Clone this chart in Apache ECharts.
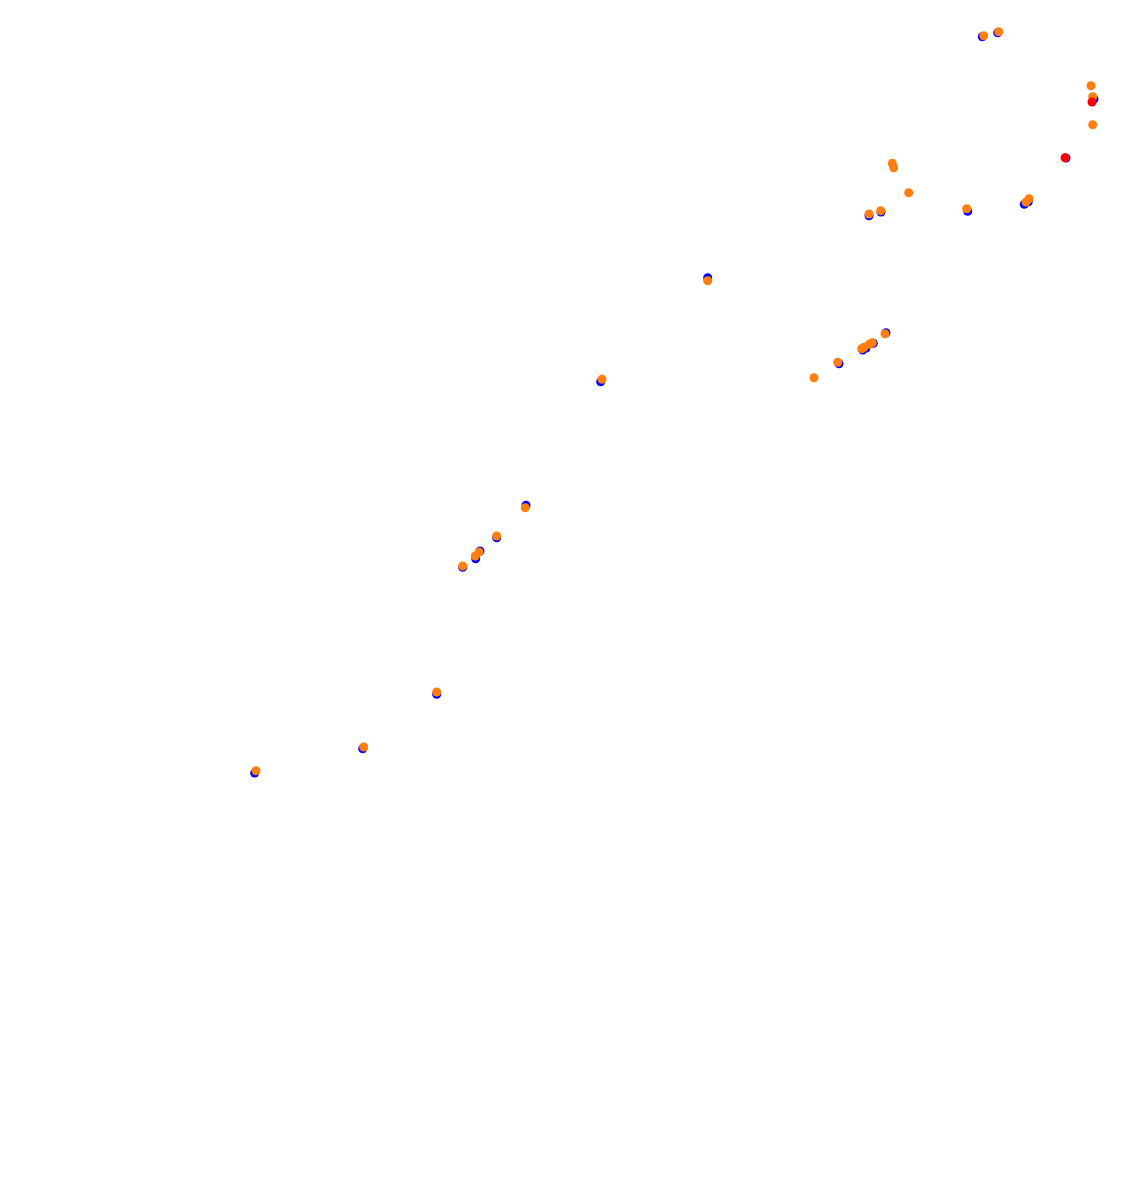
<!DOCTYPE html>
<html>
<head>
<meta charset="utf-8">
<style>html,body{margin:0;padding:0;background:#fff}#c{width:1122px;height:1181px}</style>
<script src="https://cdn.jsdelivr.net/npm/echarts@6/dist/echarts.min.js"></script>
</head>
<body>
<div id="c"></div>
<script>
var blueX = [982.3, 997.7, 1094, 1066, 869, 881, 967.7, 1024.3, 1028.3, 886, 873.3, 862.7, 866, 839, 526, 496.7, 480, 475.7, 462.7, 436.7, 362.7, 254.7, 707.7, 600.7];
var blueY = [36.7, 32.7, 99, 158, 215.7, 212, 211.3, 204.3, 201.7, 332.7, 343.3, 350, 348, 363.7, 505.3, 537.7, 551, 558.7, 567.3, 694.3, 748.7, 773, 277.7, 381.7];
var orangeX = [983.7, 998.7, 1091, 1092.7, 1092.7, 892.3, 893.7, 908.7, 869, 880.7, 966.7, 1029, 1026, 885, 872.3, 869.3, 861.7, 864, 837.7, 814, 525.3, 496.7, 479, 475.3, 462.7, 436.7, 363.7, 256, 707.7, 602];
var orangeY = [35.7, 31.7, 85.7, 96.7, 124.7, 163.3, 167.7, 192.7, 214, 210.7, 208.7, 198.7, 202, 333.7, 342.7, 344.3, 348.7, 347.3, 362.3, 377.7, 507.7, 536, 552, 556, 566, 692, 747, 770.7, 280.7, 379.3];
var redX = [1092, 1065];
var redY = [102, 157.7];

function pts(xs, ys) { return xs.map(function (x, i) { return [x, ys[i]]; }); }

var chart = echarts.init(document.getElementById('c'));
chart.setOption({
  animation: false,
  backgroundColor: '#ffffff',
  grid: { left: 0, right: 0, top: 0, bottom: 0 },
  xAxis: { type: 'value', min: 0, max: 1122, show: false },
  yAxis: { type: 'value', min: 0, max: 1181, inverse: true, show: false },
  series: [
    { type: 'scatter', data: pts(blueX, blueY), symbolSize: 9, itemStyle: { color: '#0000ff', opacity: 1 }, z: 1 },
    { type: 'scatter', data: pts(orangeX, orangeY), symbolSize: 9, itemStyle: { color: '#ff7f0e', opacity: 1 }, z: 2 },
    { type: 'scatter', data: pts(redX, redY), symbolSize: 9, itemStyle: { color: '#ff0000', opacity: 1 }, z: 3 }
  ]
});
</script>
</body>
</html>
